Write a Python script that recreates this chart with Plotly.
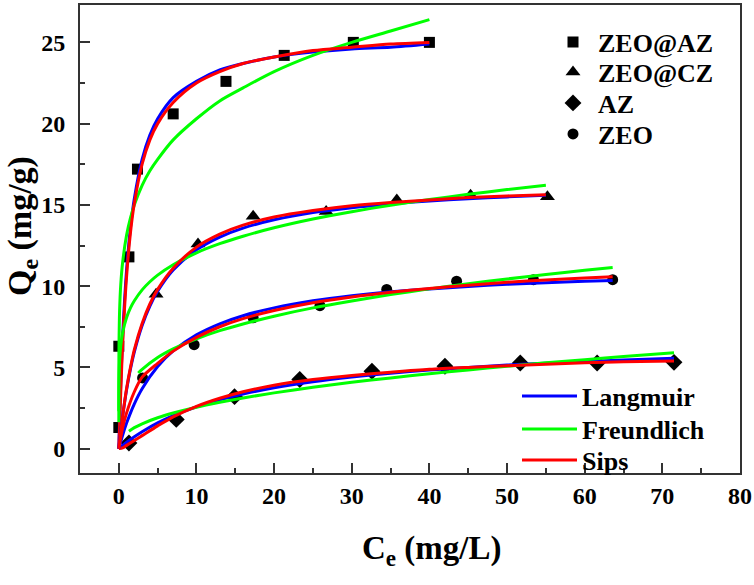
import plotly.graph_objects as go

# ---------------- experimental data ----------------
ce_zeo_az = [0.0, 0.0, 1.3, 2.4, 7.0, 13.8, 21.3, 30.2, 40.0]
qe_zeo_az = [1.3, 6.3, 11.8, 17.2, 20.6, 22.6, 24.2, 25.0, 25.0]

ce_zeo_cz = [4.8, 10.2, 17.3, 26.7, 35.8, 45.3, 55.2]
qe_zeo_cz = [9.5, 12.6, 14.3, 14.6, 15.3, 15.6, 15.5]

ce_az = [1.3, 7.4, 14.9, 23.3, 32.6, 42.0, 51.7, 61.6, 71.5]
qe_az = [0.35, 1.8, 3.2, 4.25, 4.76, 5.07, 5.27, 5.27, 5.31]

ce_zeo = [3.06, 9.7, 17.3, 25.9, 34.5, 43.5, 53.4, 63.6]
qe_zeo = [4.35, 6.4, 8.05, 8.8, 9.8, 10.3, 10.4, 10.4]

# ---------------- fitted curves ----------------
fx_zeo_az = [0, 0.1, 0.25, 0.5, 1, 1.5, 2, 3, 4, 5, 7, 10, 13, 16, 20, 25, 30, 35, 40]
lang_zeo_az = [0, 1.79, 4.05, 7.0, 11.0, 13.6, 15.4, 17.8, 19.3, 20.3, 21.6, 22.6, 23.3, 23.7, 24.1, 24.4, 24.6, 24.7, 24.9]
sips_zeo_az = [0, 1.4, 3.5, 6.5, 10.6, 13.3, 15.1, 17.5, 19.0, 20.0, 21.3, 22.5, 23.2, 23.7, 24.1, 24.5, 24.7, 24.9, 25.0]
fxf_zeo_az = [0.0001, 0.001, 0.005, 0.02, 0.1, 0.25, 0.5, 1, 1.5, 2, 3, 4, 5, 7, 10, 13, 16, 20, 25, 30, 35, 40]
freu_zeo_az = [2.3, 3.56, 4.8, 6.3, 8.5, 10.1, 11.5, 13.15, 14.2, 15.0, 16.2, 17.1, 17.8, 19.0, 20.3, 21.4, 22.2, 23.2, 24.2, 25.0, 25.7, 26.4]

fx_zeo_cz = [0, 0.25, 0.5, 1, 1.5, 2, 3, 4, 5, 7, 10, 13, 16, 20, 25, 30, 35, 40, 45, 50, 55]
lang_zeo_cz = [0, 1.09, 2.04, 3.63, 4.91, 5.96, 7.58, 8.77, 9.68, 10.99, 12.23, 13.02, 13.57, 14.08, 14.53, 14.83, 15.06, 15.24, 15.38, 15.49, 15.59]
sips_zeo_cz = [0, 1.0, 2.0, 3.7, 5.0, 6.1, 7.7, 8.9, 9.8, 11.1, 12.4, 13.2, 13.75, 14.25, 14.65, 14.95, 15.15, 15.3, 15.45, 15.55, 15.62]
fxf_zeo_cz = [0.0001, 0.001, 0.005, 0.02, 0.1, 0.25, 0.5, 1, 1.5, 2, 3, 4, 5, 7, 10, 13, 16, 20, 25, 30, 35, 40, 45, 50, 55]
freu_zeo_cz = [1.62, 2.43, 3.21, 4.08, 5.41, 6.34, 7.15, 8.07, 8.66, 9.10, 9.77, 10.27, 10.68, 11.32, 12.05, 12.61, 13.07, 13.59, 14.13, 14.58, 14.98, 15.33, 15.65, 15.94, 16.21]

fx_az = [0, 0.5, 1, 2, 3, 5, 7, 10, 13, 16, 20, 25, 30, 35, 40, 45, 50, 55, 60, 65, 71.5]
lang_az = [0, 0.20, 0.39, 0.73, 1.04, 1.58, 2.03, 2.57, 3.00, 3.36, 3.74, 4.11, 4.40, 4.64, 4.84, 5.00, 5.14, 5.26, 5.36, 5.45, 5.56]
sips_az = [0, 0.05, 0.2, 0.5, 0.8, 1.4, 1.95, 2.6, 3.1, 3.5, 3.9, 4.25, 4.5, 4.7, 4.88, 5.0, 5.1, 5.2, 5.28, 5.34, 5.4]
fxf_az = [1.3, 2, 3, 5, 7, 10, 13, 16, 20, 25, 30, 35, 40, 45, 50, 55, 60, 65, 71.5]
freu_az = [1.07, 1.29, 1.53, 1.90, 2.19, 2.55, 2.85, 3.12, 3.43, 3.77, 4.08, 4.35, 4.61, 4.84, 5.07, 5.28, 5.47, 5.67, 5.90]

fx_zeo = [0, 0.5, 1, 2, 3, 5, 7, 10, 13, 16, 20, 25, 30, 35, 40, 45, 50, 55, 60, 63.6]
lang_zeo = [0, 0.84, 1.57, 2.76, 3.69, 5.05, 6.01, 7.00, 7.68, 8.18, 8.66, 9.10, 9.41, 9.65, 9.83, 9.98, 10.11, 10.21, 10.30, 10.35]
sips_zeo = [0, 1.3, 2.2, 3.5, 4.4, 5.25, 6.0, 6.85, 7.5, 8.0, 8.5, 8.98, 9.33, 9.62, 9.86, 10.06, 10.24, 10.38, 10.5, 10.58]
fxf_zeo = [2.5, 3, 5, 7, 10, 13, 16, 20, 25, 30, 35, 40, 45, 50, 55, 60, 63.6]
freu_zeo = [4.65, 4.88, 5.61, 6.14, 6.76, 7.26, 7.67, 8.15, 8.66, 9.09, 9.48, 9.83, 10.15, 10.44, 10.71, 10.97, 11.14]

series_names = ["ZEO@AZ", "ZEO@CZ", "AZ", "ZEO"]
model_names = ["Langmuir", "Freundlich", "Sips"]

FONT = "Liberation Serif"
BLUE, GREEN, RED = "#0000FF", "#00FF00", "#FF0000"
AX = "#333333"

# plot-area geometry (px) used to place legends/titles
W, H = 754, 585
ML, MR, MT, MB = 80, 14, 5, 112
PW, PH = W - ML - MR, H - MT - MB


def px_x(px):
    return (px - ML) / PW


def px_y(py):
    return 1 - (py - MT) / PH


fig = go.Figure()

markers = [
    (ce_zeo_az, qe_zeo_az, "square", 11),
    (ce_zeo_cz, qe_zeo_cz, "triangle-up", 13),
    (ce_az, qe_az, "diamond", 13),
    (ce_zeo, qe_zeo, "circle", 11),
]
marker_legend_rows = [42, 72, 103, 134]
legend_layout = {}
for i, (name, (xs, ys, sym, sz)) in enumerate(zip(series_names, markers)):
    lg = "legend%d" % (i + 1) if i > 0 else "legend"
    fig.add_trace(go.Scatter(
        x=xs, y=ys, mode="markers", name="<b>%s</b>" % name,
        marker=dict(symbol=sym, size=sz, color="black"),
        legend=lg, cliponaxis=False, showlegend=True,
    ))
    legend_layout[lg] = dict(x=px_x(548), y=px_y(marker_legend_rows[i]), xanchor="left", yanchor="middle",
                             font=dict(family=FONT, size=26, color="black"),
                             bgcolor="rgba(0,0,0,0)", itemwidth=40, visible=True)

curve_sets = [
    (fx_zeo_az, lang_zeo_az, fxf_zeo_az, freu_zeo_az, sips_zeo_az),
    (fx_zeo_cz, lang_zeo_cz, fxf_zeo_cz, freu_zeo_cz, sips_zeo_cz),
    (fx_az, lang_az, fxf_az, freu_az, sips_az),
    (fx_zeo, lang_zeo, fxf_zeo, freu_zeo, sips_zeo),
]
line_legend_rows = [396, 429, 460]
for j, nm in enumerate(model_names):
    lg = "legend%d" % (5 + j)
    legend_layout[lg] = dict(x=px_x(517), y=px_y(line_legend_rows[j]), xanchor="left", yanchor="middle",
                             font=dict(family=FONT, size=26, color="black"),
                             bgcolor="rgba(0,0,0,0)", itemwidth=55, visible=True)

for i, (fx, lang, fxf, freu, sips) in enumerate(curve_sets):
    show = i == 0
    fig.add_trace(go.Scatter(x=fx, y=lang, mode="lines", name="<b>Langmuir</b>",
                             line=dict(color=BLUE, width=3, shape="spline", smoothing=0.8),
                             legend="legend5", showlegend=show))
    fig.add_trace(go.Scatter(x=fxf, y=freu, mode="lines", name="<b>Freundlich</b>",
                             line=dict(color=GREEN, width=3, shape="spline", smoothing=0.8),
                             legend="legend6", showlegend=show))
    fig.add_trace(go.Scatter(x=fx, y=sips, mode="lines", name="<b>Sips</b>",
                             line=dict(color=RED, width=3, shape="spline", smoothing=0.8),
                             legend="legend7", showlegend=show))

axis_common = dict(
    showgrid=False, zeroline=False, showline=True, linecolor=AX, linewidth=2,
    mirror=True, ticks="inside", ticklen=10, tickwidth=2, tickcolor=AX, automargin=False,
    tickfont=dict(family=FONT, size=24, color="black", weight="bold"),
)

fig.update_layout(
    width=W, height=H, showlegend=True,
    margin=dict(l=ML, r=MR, t=MT, b=MB, autoexpand=False),
    paper_bgcolor="white", plot_bgcolor="white",
    font=dict(family=FONT, color="black"),
    xaxis=dict(range=[-5, 80], tick0=0, dtick=10,
               minor=dict(ticks="inside", ticklen=5, tickwidth=2, dtick=5, tick0=0, tickcolor=AX),
               **axis_common),
    yaxis=dict(range=[-1.5, 27.3], tick0=0, dtick=5, ticklabelstandoff=8,
               minor=dict(ticks="inside", ticklen=5, tickwidth=2, dtick=2.5, tick0=0, tickcolor=AX),
               **axis_common),
    annotations=[
        dict(text="<b>C<sub>e</sub> (mg/L)</b>", xref="paper", yref="paper",
             x=px_x(432), y=px_y(550), xanchor="center", yanchor="middle", showarrow=False,
             font=dict(family=FONT, size=33, color="black")),
        dict(text="<b>Q<sub>e</sub> (mg/g)</b>", xref="paper", yref="paper",
             x=px_x(22), y=px_y(226), xanchor="center", yanchor="middle", showarrow=False,
             textangle=-90, font=dict(family=FONT, size=34, color="black")),
    ],
    **legend_layout,
)

fig.write_html("out.html", config={"displayModeBar": False},
               post_script="document.body.style.margin='0px';document.body.style.overflow='hidden';")
